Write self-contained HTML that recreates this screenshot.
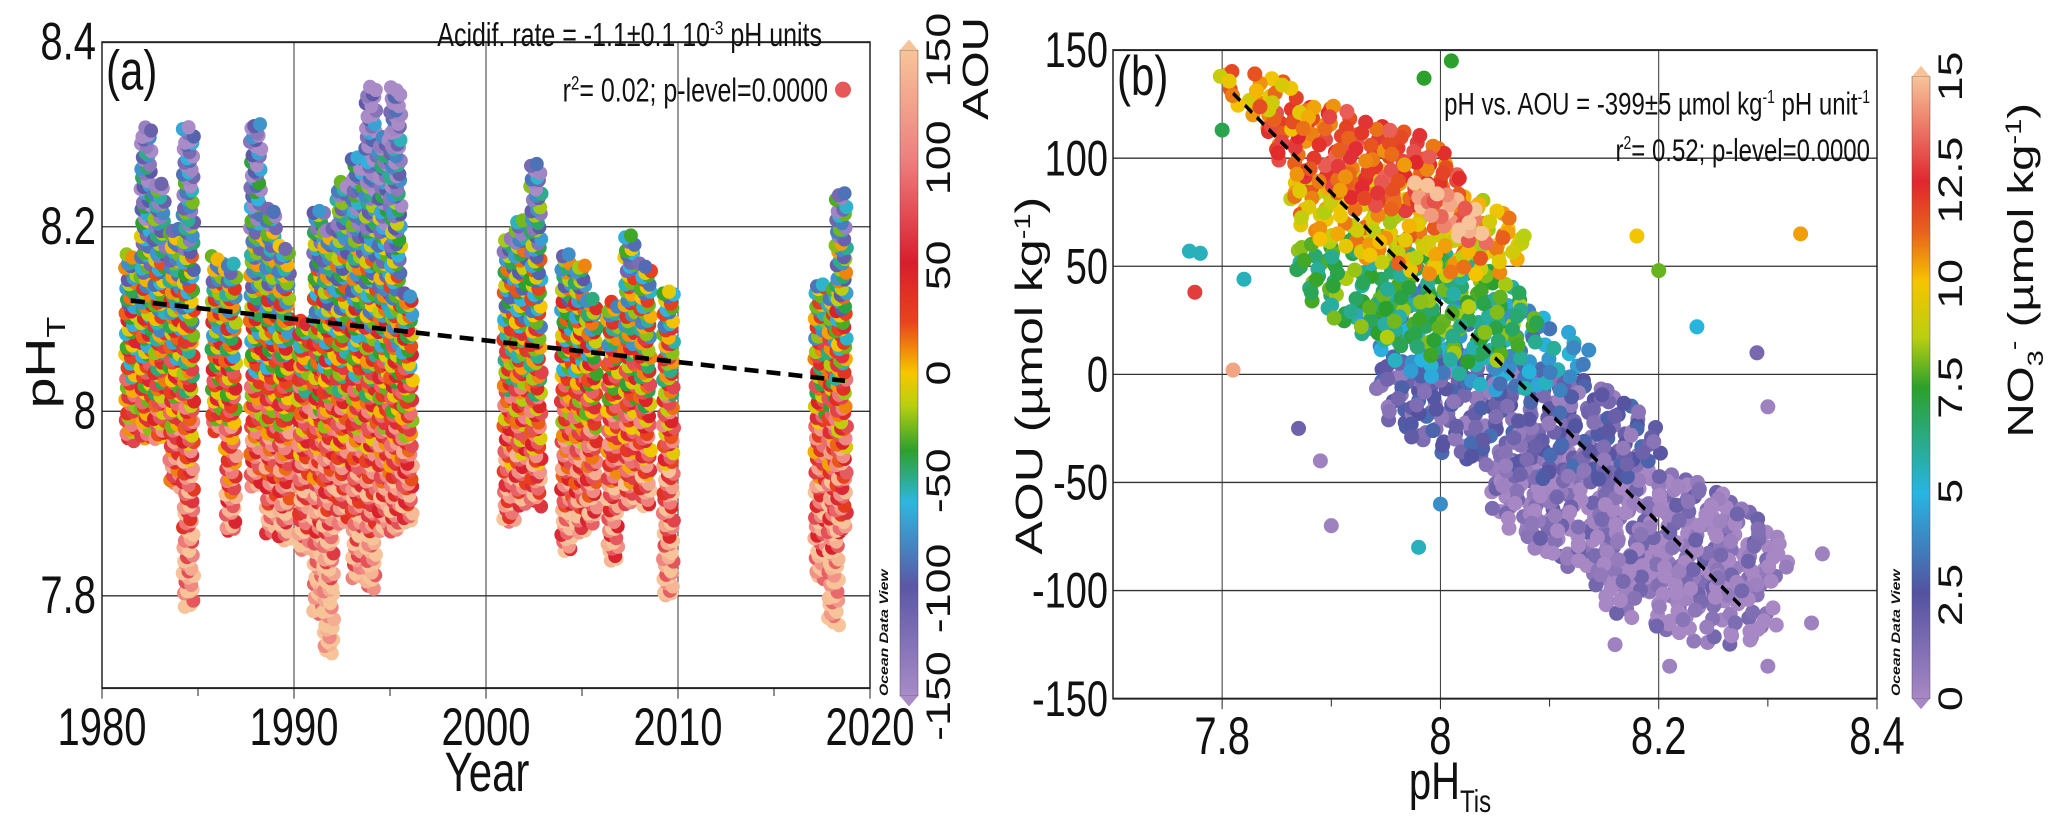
<!DOCTYPE html>
<html><head><meta charset="utf-8"><style>
html,body{margin:0;padding:0;background:#fff;}
svg{display:block;}
text{font-family:"Liberation Sans Narrow","Liberation Sans",sans-serif;fill:#111;}
</style></head><body>
<svg id="fig" width="2067" height="819" viewBox="0 0 2067 621.3" preserveAspectRatio="none" xmlns="http://www.w3.org/2000/svg">
<defs>
<linearGradient id="gA" x1="0" y1="1" x2="0" y2="0">
<stop offset="0" stop-color="#a98bc7"/><stop offset="0.17" stop-color="#5b57a6"/><stop offset="0.3" stop-color="#2fb6e0"/><stop offset="0.38" stop-color="#2ca02c"/><stop offset="0.45" stop-color="#b9cf10"/><stop offset="0.5" stop-color="#f7c600"/><stop offset="0.58" stop-color="#e8431c"/><stop offset="0.67" stop-color="#d81e2c"/><stop offset="0.83" stop-color="#ee7f7f"/><stop offset="1" stop-color="#f7c49a"/>
</linearGradient>
<linearGradient id="gB" x1="0" y1="1" x2="0" y2="0">
<stop offset="0" stop-color="#a888c4"/><stop offset="0.17" stop-color="#5452a0"/><stop offset="0.33" stop-color="#27b5e2"/><stop offset="0.5" stop-color="#2ca02c"/><stop offset="0.58" stop-color="#b9cf10"/><stop offset="0.67" stop-color="#f5c400"/><stop offset="0.75" stop-color="#e8621c"/><stop offset="0.83" stop-color="#e0262e"/><stop offset="1" stop-color="#f7c49a"/>
</linearGradient>
<clipPath id="cA"><rect x="102" y="32" width="768" height="490"/></clipPath>
<clipPath id="cB"><rect x="1113" y="38" width="764" height="492"/></clipPath>
</defs>
<g id="gridA"></g>
<g id="dotsA" clip-path="url(#cA)"></g>
<g id="axA"></g>
<g id="gridB"></g>
<g id="dotsB" clip-path="url(#cB)"></g>
<g id="axB"></g>

<rect x="900" y="38" width="18" height="490" fill="url(#gA)" stroke="#555" stroke-width="0.5"/>
<polygon points="900,38 918,38 909,30" fill="#f7c49a"/>
<polygon points="900,528 918,528 909,536" fill="#a98bc7"/>
<rect x="1912" y="58" width="18" height="472" fill="url(#gB)" stroke="#555" stroke-width="0.5"/>
<polygon points="1912,58 1930,58 1921,50" fill="#f7c49a"/>
<polygon points="1912,530 1930,530 1921,538" fill="#a888c4"/>

<text x="106" y="68" font-size="42">(a)</text>
<text x="822" y="35" font-size="25" text-anchor="end">Acidif. rate = -1.1±0.1 10<tspan dy="-9" font-size="15">-3</tspan><tspan dy="9"> pH units</tspan></text>
<text x="828" y="77" font-size="25" text-anchor="end">r<tspan dy="-9" font-size="15">2</tspan><tspan dy="9">= 0.02; p-level=0.0000</tspan></text>
<ellipse cx="843" cy="68" rx="8" ry="6.1" fill="#e8585a"/>
<text transform="translate(55,275) rotate(-90)" font-size="42" text-anchor="middle">pH<tspan dy="10" font-size="26">T</tspan></text>
<text x="487" y="600" font-size="42" text-anchor="middle">Year</text>
<text transform="translate(988,52) rotate(-90)" font-size="36" text-anchor="middle">AOU</text>
<text transform="translate(888,528) rotate(-90)" font-size="12" font-weight="bold" font-style="italic" style="font-family:'Liberation Sans',sans-serif">Ocean Data View</text>

<text x="1117" y="72" font-size="42">(b)</text>
<text x="1870" y="87" font-size="24" text-anchor="end">pH vs. AOU = -399±5 µmol kg<tspan dy="-9" font-size="14">-1</tspan><tspan dy="9"> pH unit</tspan><tspan dy="-9" font-size="14">-1</tspan></text>
<text x="1870" y="122" font-size="24" text-anchor="end">r<tspan dy="-9" font-size="14">2</tspan><tspan dy="9">= 0.52; p-level=0.0000</tspan></text>
<text transform="translate(1042,285) rotate(-90)" font-size="38" text-anchor="middle">AOU  (µmol kg<tspan dy="-12" font-size="22">-1</tspan><tspan dy="12">)</tspan></text>
<text x="1450" y="606" font-size="40" text-anchor="middle">pH<tspan dy="10" font-size="24">Tis</tspan></text>
<text transform="translate(2033,205) rotate(-90)" font-size="36" text-anchor="middle">NO<tspan dy="10" font-size="22">3</tspan><tspan dy="-22" font-size="22">-</tspan><tspan dy="12"> (µmol kg</tspan><tspan dy="-12" font-size="22">-1</tspan><tspan dy="12">)</tspan></text>
<text transform="translate(1900,528) rotate(-90)" font-size="12" font-weight="bold" font-style="italic" style="font-family:'Liberation Sans',sans-serif">Ocean Data View</text>
</svg>
<script>
// ---------- Panel A data ----------
const colYears = [1981.5,1982.3,1983.0,1983.8,1984.5,1986.0,1986.7,1988.0,1988.8,1989.5,1990.5,1991.3,1991.8,1992.5,1993.3,1994.0,1994.7,1995.3,1995.9,2001.2,2001.8,2002.6,2004.2,2004.9,2005.5,2006.6,2007.5,2008.3,2009.5,2017.4,2018.1,2018.5];
const colTop    = [8.17,8.31,8.25,8.20,8.31,8.17,8.16,8.31,8.22,8.18,8.10,8.22,8.20,8.25,8.28,8.35,8.30,8.35,8.13,8.19,8.21,8.27,8.17,8.16,8.12,8.12,8.19,8.16,8.13,8.14,8.13,8.24];
const colBottom = [7.97,7.97,7.97,7.92,7.79,7.98,7.87,7.92,7.87,7.86,7.85,7.78,7.74,7.88,7.82,7.81,7.87,7.87,7.88,7.88,7.90,7.90,7.85,7.87,7.88,7.84,7.90,7.90,7.80,7.82,7.77,7.87];
const yTicksA = [7.8,8.0,8.2,8.4];
const yTickLabelsA = ["7.8","8","8.2","8.4"];
const xTicksA = [1980,1990,2000,2010,2020];
const trendA = [[1981.5,8.12],[2018.7,8.033]];
const aouTicks = [-150,-100,-50,0,50,100,150];

// ---------- Panel B data (clusters) ----------
const clPH   = [8.18, 8.22, 8.07, 8.03, 7.98, 7.97, 7.93, 7.84, 8.01];
const clAOU  = [-70, -105, -20, 15, 35, 70, 100, 128, 75];
const clDPH  = [0.12, 0.08, 0.12, 0.10, 0.10, 0.10, 0.08, 0.04, 0.025];
const clDAOU = [35, 20, 30, 25, 30, 25, 25, 15, 15];
const clN    = [480, 120, 340, 140, 260, 230, 180, 40, 35];
const clNO3  = [0.5, 0.3, 1.8, 4.5, 7.2, 10, 12, 10.5, 14.5];
const outPH  = [7.77,7.78,7.775,7.82,7.81,7.89,7.90,7.98,8.01,8.18,8.20,8.33,8.235,8.29,8.30,8.34,8.35,8.30,7.80,7.985,8.16,8.21,7.87,8.0];
const outAOU = [57,56,38,44,2,-40,-70,-80,145,64,48,65,22,10,-15,-115,-83,-135,113,137,-125,-135,-25,-60];
const outNO3 = [5.5,5.5,12.8,5.5,14.5,0.3,0.3,5.5,7.5,10,8,10.5,5,1.5,0.3,0.3,0.3,0.3,7,7.5,0.3,0.3,1.8,4];
const xTicksB = [7.8,8.0,8.2,8.4];
const xTickLabelsB = ["7.8","8","8.2","8.4"];
const yTicksB = [-150,-100,-50,0,50,100,150];
const trendB = [[7.81,130],[8.275,-107]];
const no3Ticks = [0,2.5,5,7.5,10,12.5,15];

const NS="http://www.w3.org/2000/svg";
const RX=7.5, RY=5.7;
function mk(parent,tag,attrs){const e=document.createElementNS(NS,tag);for(const k in attrs)e.setAttribute(k,attrs[k]);parent.appendChild(e);return e;}
function halton(i,b){let f=1,r=0;while(i>0){f/=b;r+=f*(i%b);i=Math.floor(i/b);}return r;}
function lerpC(stops,t){t=Math.max(0,Math.min(1,t));for(let i=1;i<stops.length;i++){if(t<=stops[i][0]){const a=stops[i-1],b=stops[i];const u=(t-a[0])/(b[0]-a[0]||1);const ca=a[1],cb=b[1];return `rgb(${Math.round(ca[0]+(cb[0]-ca[0])*u)},${Math.round(ca[1]+(cb[1]-ca[1])*u)},${Math.round(ca[2]+(cb[2]-ca[2])*u)})`;}}return "#000";}
const hex=h=>[parseInt(h.slice(1,3),16),parseInt(h.slice(3,5),16),parseInt(h.slice(5,7),16)];
const stopsA=[[0,"#a98bc7"],[0.17,"#5b57a6"],[0.3,"#2fb6e0"],[0.38,"#2ca02c"],[0.45,"#b9cf10"],[0.5,"#f7c600"],[0.58,"#e8431c"],[0.67,"#d81e2c"],[0.83,"#ee7f7f"],[1,"#f7c49a"]].map(s=>[s[0],hex(s[1])]);
const stopsB=[[0,"#a888c4"],[0.17,"#5452a0"],[0.33,"#27b5e2"],[0.5,"#2ca02c"],[0.58,"#b9cf10"],[0.67,"#f5c400"],[0.75,"#e8621c"],[0.83,"#e0262e"],[1,"#f7c49a"]].map(s=>[s[0],hex(s[1])]);

const xA=v=>102+(v-1980)/40*768;
const yA=v=>522-(v-7.7)/0.7*490;
const xB=v=>1113+(v-7.7)/0.7*764;
const yB=v=>530-(v+150)/300*492;
const cbA=v=>528-(v+150)/300*490;
const cbB=v=>530-v/15*472;

// ---- Panel A grid
const gA=document.getElementById('gridA');
xTicksA.slice(1,4).forEach(t=>{const l=mk(gA,'line',{x1:xA(t),x2:xA(t),y1:32,y2:522,stroke:'#333','stroke-width':1});

});
yTicksA.slice(0,3).forEach(t=>{const l=mk(gA,'line',{x1:102,x2:870,y1:yA(t),y2:yA(t),stroke:'#333','stroke-width':1});

});

// ---- Panel A dots
const dA=document.getElementById('dotsA');
let k=1;
colYears.forEach((yr,ci)=>{
  const lo=colBottom[ci], hi=colTop[ci];
  for(let p=lo;p<=hi+1e-9;p+=0.006){
    for(let j=0;j<2;j++){
      k++;
      const jx=(halton(k,2)-0.5)*0.6;
      const jp=(halton(k,3)-0.5)*0.006;
      const aou=(8.07-p)*560+(halton(k,5)-0.5)*150;
      const c=mk(dA,'ellipse',{cx:xA(yr+jx),cy:yA(p+jp),rx:7,ry:5.4,fill:lerpC(stopsA,(aou+150)/300)});
      
      
    }
  }
});
const tlA=mk(dA,'line',{x1:xA(trendA[0][0]),y1:yA(trendA[0][1]),x2:xA(trendA[1][0]),y2:yA(trendA[1][1]),stroke:'#000','stroke-width':3.5,'stroke-dasharray':'14,8'});



// ---- Panel A axes
const aA=document.getElementById('axA');
const frA=mk(aA,'rect',{x:102,y:32,width:768,height:490,fill:'none',stroke:'#222','stroke-width':1.5});


yTicksA.forEach((t,i)=>{const tx=mk(aA,'text',{x:96,y:yA(t)+13,'font-size':40,'text-anchor':'end'});tx.textContent=yTickLabelsA[i];

});
xTicksA.forEach(t=>{const tx=mk(aA,'text',{x:xA(t),y:565,'font-size':40,'text-anchor':'middle'});tx.textContent=String(t);


mk(aA,'line',{x1:xA(t),x2:xA(t),y1:522,y2:530,stroke:'#222'});
if(t<2020)mk(aA,'line',{x1:xA(t+5),x2:xA(t+5),y1:522,y2:528,stroke:'#222'});});
aouTicks.forEach(t=>{const tx=mk(aA,'text',{transform:`translate(950,${cbA(t)}) rotate(-90)`,'font-size':34,'text-anchor':'middle'});tx.textContent=String(t);

});

// ---- Panel B grid
const gB=document.getElementById('gridB');
xTicksB.slice(0,3).forEach(t=>{const l=mk(gB,'line',{x1:xB(t),x2:xB(t),y1:38,y2:530,stroke:'#333','stroke-width':1});

});
yTicksB.slice(1,6).forEach(t=>{const l=mk(gB,'line',{x1:1113,x2:1877,y1:yB(t),y2:yB(t),stroke:'#333','stroke-width':1});

});

// ---- Panel B dots
const dB=document.getElementById('dotsB');
clPH.forEach((_,ci)=>{
  for(let i=1;i<=clN[ci];i++){
    const u=halton(i+ci*37,2)*2-1, v=halton(i+ci*37,3)*2-1;
    if(u*u+v*v>1)continue;
    const aou=clAOU[ci]+v*clDAOU[ci];
    const ph=clPH[ci]+u*clDPH[ci]-v*clDAOU[ci]/510;
    const no3=clNO3[ci]+(halton(i,5)-0.5)*3;
    const c=mk(dB,'ellipse',{cx:xB(ph),cy:yB(aou),rx:RX,ry:RY,fill:lerpC(stopsB,no3/15)});
    
    
  }
});
outPH.forEach((p,i)=>{const c=mk(dB,'ellipse',{cx:xB(p),cy:yB(outAOU[i]),rx:RX,ry:RY,fill:lerpC(stopsB,outNO3[i]/15)});

});
const tlB=mk(dB,'line',{x1:xB(trendB[0][0]),y1:yB(trendB[0][1]),x2:xB(trendB[1][0]),y2:yB(trendB[1][1]),stroke:'#000','stroke-width':3,'stroke-dasharray':'9,6'});



// ---- Panel B axes
const aB=document.getElementById('axB');
const frB=mk(aB,'rect',{x:1113,y:38,width:764,height:492,fill:'none',stroke:'#222','stroke-width':1.5});


yTicksB.forEach(t=>{const tx=mk(aB,'text',{x:1108,y:yB(t)+13,'font-size':38,'text-anchor':'end'});tx.textContent=String(t);

});
xTicksB.forEach((t,i)=>{const tx=mk(aB,'text',{x:xB(t),y:572,'font-size':40,'text-anchor':'middle'});tx.textContent=xTickLabelsB[i];


mk(aB,'line',{x1:xB(t),x2:xB(t),y1:530,y2:538,stroke:'#222'});
if(t<8.4)mk(aB,'line',{x1:xB(t+0.1),x2:xB(t+0.1),y1:530,y2:536,stroke:'#222'});});
no3Ticks.forEach(t=>{const tx=mk(aB,'text',{transform:`translate(1962,${cbB(t)}) rotate(-90)`,'font-size':34,'text-anchor':'middle'});tx.textContent=String(t);

});
</script>
</body></html>
